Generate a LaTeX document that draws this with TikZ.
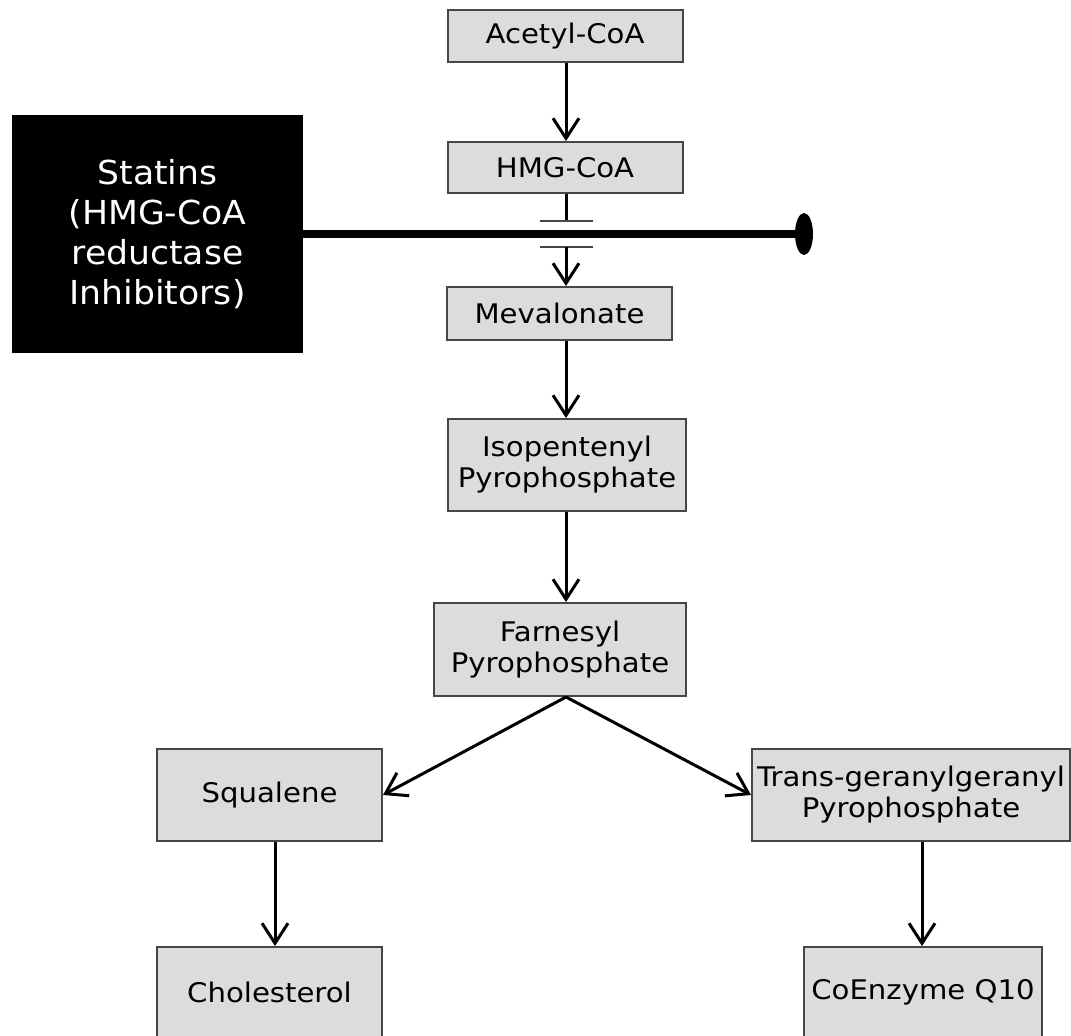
\documentclass[tikz,border=0pt]{standalone}
\usepackage{fontspec}
\setmainfont{DejaVu Sans}
\newfontfamily\boxfont[FakeStretch=1.08]{DejaVu Sans}
\newfontfamily\statfont[FakeStretch=1.05]{DejaVu Sans}
\usetikzlibrary{arrows.meta,shapes.geometric,calc}
\definecolor{boxfill}{RGB}{220,220,220}
\definecolor{boxline}{RGB}{70,70,70}
\begin{document}
\begin{tikzpicture}[x=1pt,y=-1pt,
  box/.style={draw=boxline, fill=boxfill, line width=2pt, inner sep=0pt, align=center,
    font=\boxfont\fontsize{27}{31}\selectfont},
  arr/.style={line width=3pt, -{Straight Barb[length=20pt,width=26pt]}},
  plain/.style={line width=3pt}]
\useasboundingbox (0,0) rectangle (1071,1036);
% boxes
\node[box, minimum width=235pt, minimum height=52pt] (acetyl) at (565,36) {Acetyl-CoA};
\node[box, minimum width=235pt, minimum height=51pt] (hmg) at (565,167.5) {HMG-CoA};
\node[box, minimum width=225pt, minimum height=53pt] (mev) at (559.5,313.5) {Mevalonate};
\node[box, minimum width=238pt, minimum height=92pt] (iso) at (567,465) {Isopentenyl\\Pyrophosphate};
\node[box, minimum width=252pt, minimum height=93pt] (farn) at (560,649.5) {Farnesyl\\Pyrophosphate};
\node[box, minimum width=225pt, minimum height=92pt] (squal) at (269.5,795) {Squalene};
\node[box, minimum width=318pt, minimum height=92pt] (trans) at (911,795) {Trans-geranylgeranyl\\Pyrophosphate};
\node[box, minimum width=225pt, minimum height=91pt] (chol) at (269.5,992.5) {Cholesterol};
\node[box, minimum width=238pt, minimum height=91pt] (coq) at (923,992.5) {CoEnzyme Q10};
% statins
\node[fill=black, text=white, inner sep=0pt, minimum width=291pt, minimum height=238pt,
  align=center, font=\statfont\fontsize{33}{40}\selectfont] (statins) at (157.5,234)
  {Statins\\(HMG-CoA\\reductase\\Inhibitors)};
\node[ellipse, fill=black, inner sep=0pt, minimum width=18pt, minimum height=42pt] (blob) at (804,234) {};
% inhibition
\coordinate (bar1) at (566,221);
\coordinate (bar2) at (566,247);
\draw[plain] (hmg.south -| bar1) -- (bar1);
\draw[line width=2pt, boxline] ($(bar1)+(-26,0)$) -- ($(bar1)+(27,0)$);
\draw[line width=2pt, boxline] ($(bar2)+(-26,0)$) -- ($(bar2)+(27,0)$);
\draw[line width=8pt] (statins.east) -- (blob.center);
\draw[arr] (bar2) -- (mev.north -| bar2);
% arrows
\draw[arr] (acetyl.south -| bar1) -- (hmg.north -| bar1);
\draw[arr] (mev.south -| bar1) -- (iso.north -| bar1);
\draw[arr] (iso.south -| bar1) -- (farn.north -| bar1);
\coordinate (fork) at (566,696);
\draw[arr] (farn.south -| fork) -- (squal.east);
\draw[arr] (farn.south -| fork) -- (trans.west);
\draw[arr] (squal.south -| 275,0) -- (chol.north -| 275,0);
\draw[arr] (trans.south -| 922,0) -- (coq.north -| 922,0);
\end{tikzpicture}
\end{document}
